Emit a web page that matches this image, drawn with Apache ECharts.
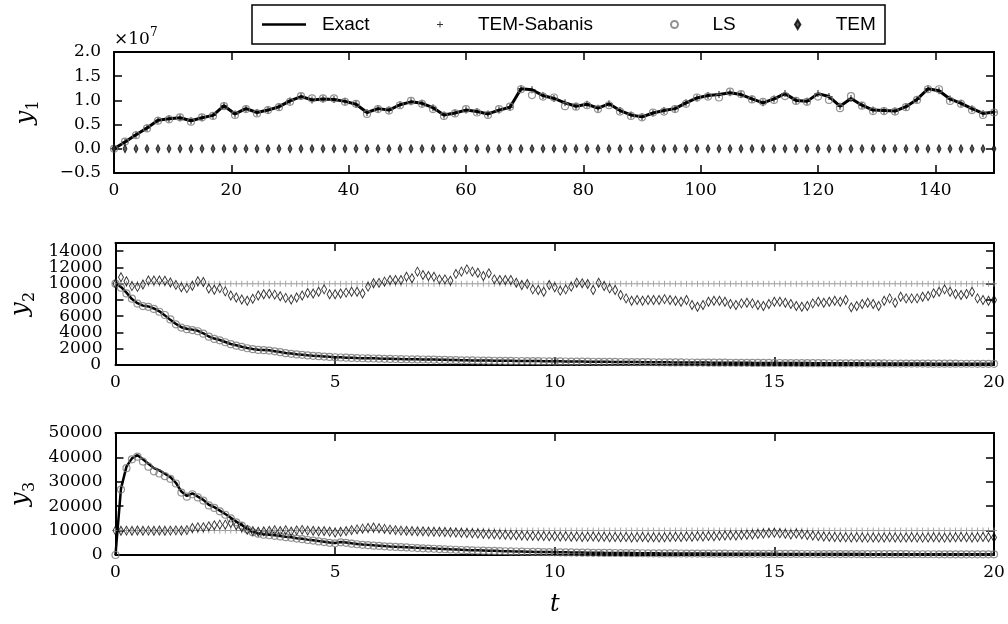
<!DOCTYPE html>
<html>
<head>
<meta charset="utf-8">
<script src="https://cdn.jsdelivr.net/npm/echarts@6/dist/echarts.min.js"></script>
<style>
  html, body { margin: 0; padding: 0; background: #fff; }
  #chart { width: 1008px; height: 624px; }
</style>
</head>
<body>
<div id="chart"></div>
<script>
// sampling times (markers every 1.875 on the long run, every 0.125 on the short ones)
const t1 = [
  0, 1.875, 3.75, 5.625, 7.5, 9.375, 11.25, 13.125, 15, 16.875,
  18.75, 20.625, 22.5, 24.375, 26.25, 28.125, 30, 31.875, 33.75, 35.625,
  37.5, 39.375, 41.25, 43.125, 45, 46.875, 48.75, 50.625, 52.5, 54.375,
  56.25, 58.125, 60, 61.875, 63.75, 65.625, 67.5, 69.375, 71.25, 73.125,
  75, 76.875, 78.75, 80.625, 82.5, 84.375, 86.25, 88.125, 90, 91.875,
  93.75, 95.625, 97.5, 99.375, 101.25, 103.125, 105, 106.875, 108.75, 110.625,
  112.5, 114.375, 116.25, 118.125, 120, 121.875, 123.75, 125.625, 127.5, 129.375,
  131.25, 133.125, 135, 136.875, 138.75, 140.625, 142.5, 144.375, 146.25, 148.125,
  150
];
const t2 = [
  0, 0.125, 0.25, 0.375, 0.5, 0.625, 0.75, 0.875,
  1, 1.125, 1.25, 1.375, 1.5, 1.625, 1.75, 1.875,
  2, 2.125, 2.25, 2.375, 2.5, 2.625, 2.75, 2.875,
  3, 3.125, 3.25, 3.375, 3.5, 3.625, 3.75, 3.875,
  4, 4.125, 4.25, 4.375, 4.5, 4.625, 4.75, 4.875,
  5, 5.125, 5.25, 5.375, 5.5, 5.625, 5.75, 5.875,
  6, 6.125, 6.25, 6.375, 6.5, 6.625, 6.75, 6.875,
  7, 7.125, 7.25, 7.375, 7.5, 7.625, 7.75, 7.875,
  8, 8.125, 8.25, 8.375, 8.5, 8.625, 8.75, 8.875,
  9, 9.125, 9.25, 9.375, 9.5, 9.625, 9.75, 9.875,
  10, 10.125, 10.25, 10.375, 10.5, 10.625, 10.75, 10.875,
  11, 11.125, 11.25, 11.375, 11.5, 11.625, 11.75, 11.875,
  12, 12.125, 12.25, 12.375, 12.5, 12.625, 12.75, 12.875,
  13, 13.125, 13.25, 13.375, 13.5, 13.625, 13.75, 13.875,
  14, 14.125, 14.25, 14.375, 14.5, 14.625, 14.75, 14.875,
  15, 15.125, 15.25, 15.375, 15.5, 15.625, 15.75, 15.875,
  16, 16.125, 16.25, 16.375, 16.5, 16.625, 16.75, 16.875,
  17, 17.125, 17.25, 17.375, 17.5, 17.625, 17.75, 17.875,
  18, 18.125, 18.25, 18.375, 18.5, 18.625, 18.75, 18.875,
  19, 19.125, 19.25, 19.375, 19.5, 19.625, 19.75, 19.875,
  20
];

// y1 (units of 1e7)
const y1Exact = [
  0.00, 0.14, 0.29, 0.43, 0.59, 0.62, 0.64, 0.58, 0.64, 0.69,
  0.89, 0.72, 0.83, 0.75, 0.80, 0.87, 0.99, 1.08, 1.01, 1.03,
  1.02, 0.98, 0.92, 0.75, 0.83, 0.80, 0.91, 0.97, 0.94, 0.85,
  0.70, 0.74, 0.80, 0.77, 0.72, 0.80, 0.86, 1.24, 1.22, 1.10,
  1.04, 0.95, 0.88, 0.92, 0.84, 0.93, 0.79, 0.70, 0.66, 0.74,
  0.79, 0.83, 0.95, 1.05, 1.10, 1.12, 1.16, 1.12, 1.03, 0.95,
  1.03, 1.14, 1.00, 0.98, 1.14, 1.08, 0.88, 1.04, 0.90, 0.80,
  0.79, 0.78, 0.87, 1.02, 1.24, 1.20, 1.03, 0.94, 0.83, 0.73,
  0.76
];
const y1LS = [
  0.00, 0.15, 0.28, 0.42, 0.58, 0.61, 0.65, 0.56, 0.65, 0.68,
  0.88, 0.70, 0.82, 0.73, 0.80, 0.86, 0.97, 1.09, 1.04, 1.04,
  1.04, 0.97, 0.93, 0.72, 0.82, 0.79, 0.90, 0.99, 0.93, 0.82,
  0.68, 0.73, 0.82, 0.75, 0.70, 0.82, 0.87, 1.23, 1.11, 1.08,
  1.06, 0.88, 0.87, 0.90, 0.82, 0.90, 0.77, 0.68, 0.65, 0.75,
  0.77, 0.82, 0.93, 1.06, 1.08, 1.06, 1.18, 1.13, 1.02, 0.97,
  1.01, 1.09, 0.99, 0.97, 1.08, 1.01, 0.84, 1.09, 0.89, 0.78,
  0.78, 0.77, 0.86, 1.01, 1.23, 1.23, 0.99, 0.93, 0.80, 0.70,
  0.75
];
// TEM-Sabanis sits on the exact path in this panel
const y1Sabanis = y1Exact;
const y1TEM = [
  0, 0, 0, 0, 0, 0, 0, 0, 0, 0, 0, 0, 0, 0, 0, 0, 0, 0, 0, 0,
  0, 0, 0, 0, 0, 0, 0, 0, 0, 0, 0, 0, 0, 0, 0, 0, 0, 0, 0, 0,
  0, 0, 0, 0, 0, 0, 0, 0, 0, 0, 0, 0, 0, 0, 0, 0, 0, 0, 0, 0,
  0, 0, 0, 0, 0, 0, 0, 0, 0, 0, 0, 0, 0, 0, 0, 0, 0, 0, 0, 0,
  0
];

// y2
const y2Exact = [
  10000, 9600, 8900, 8100, 7600, 7300, 7200, 6950, 6600, 6100,
  5550, 5050, 4650, 4450, 4350, 4200, 3900, 3500, 3250, 3070,
  2830, 2580, 2420, 2250, 2100, 1970, 1880, 1840, 1800, 1700,
  1600, 1480, 1400, 1320, 1270, 1200, 1150, 1110, 1060, 1000,
  960, 940, 905, 890, 860, 845, 820, 815, 790, 770,
  760, 750, 728, 722, 705, 700, 688, 672, 665, 640,
  632, 610, 603, 588, 580, 568, 563, 548, 540, 527,
  522, 512, 508, 500, 503, 492, 486, 478, 468, 462,
  450, 447, 438, 430, 427, 418, 410, 402, 398, 393,
  386, 380, 377, 368, 362, 358, 350, 347, 341, 337,
  333, 326, 322, 319, 311, 309, 303, 300, 294, 292,
  288, 283, 279, 276, 270, 268, 263, 260, 255, 253,
  250, 246, 244, 239, 236, 233, 231, 227, 224, 222,
  219, 215, 213, 210, 208, 204, 202, 199, 196, 194,
  191, 188, 186, 183, 181, 178, 176, 173, 171, 169,
  166, 164, 162, 160, 157, 155, 153, 151, 149, 147,
  145
];
const y2LS = [
  10000, 9500, 8800, 8150, 7550, 7250, 7150, 6900, 6550, 6150,
  5600, 5000, 4600, 4400, 4300, 4150, 3850, 3480, 3200, 3030,
  2800, 2560, 2380, 2230, 2060, 1950, 1850, 1820, 1770, 1680,
  1580, 1460, 1380, 1300, 1250, 1180, 1130, 1090, 1040, 990,
  950, 925, 895, 875, 850, 830, 812, 800, 780, 762,
  748, 738, 720, 710, 698, 690, 676, 663, 652, 632,
  622, 604, 595, 580, 572, 560, 553, 540, 532, 520,
  514, 506, 500, 494, 494, 486, 480, 470, 462, 455,
  444, 440, 432, 425, 420, 412, 404, 397, 392, 387,
  380, 375, 371, 363, 357, 352, 345, 342, 336, 332,
  328, 322, 318, 314, 307, 305, 299, 296, 291, 288,
  284, 280, 276, 272, 267, 265, 260, 257, 252, 250,
  247, 243, 241, 236, 233, 230, 228, 225, 222, 219,
  216, 213, 211, 208, 205, 202, 200, 197, 194, 192,
  189, 186, 184, 181, 179, 176, 174, 171, 169, 167,
  164, 162, 160, 158, 155, 153, 151, 149, 147, 145,
  143
];
// TEM-Sabanis stays on its starting value in panels 2 and 3
const y23Sabanis = [
  10000, 10000, 10000, 10000, 10000, 10000, 10000, 10000, 10000, 10000,
  10000, 10000, 10000, 10000, 10000, 10000, 10000, 10000, 10000, 10000,
  10000, 10000, 10000, 10000, 10000, 10000, 10000, 10000, 10000, 10000,
  10000, 10000, 10000, 10000, 10000, 10000, 10000, 10000, 10000, 10000,
  10000, 10000, 10000, 10000, 10000, 10000, 10000, 10000, 10000, 10000,
  10000, 10000, 10000, 10000, 10000, 10000, 10000, 10000, 10000, 10000,
  10000, 10000, 10000, 10000, 10000, 10000, 10000, 10000, 10000, 10000,
  10000, 10000, 10000, 10000, 10000, 10000, 10000, 10000, 10000, 10000,
  10000, 10000, 10000, 10000, 10000, 10000, 10000, 10000, 10000, 10000,
  10000, 10000, 10000, 10000, 10000, 10000, 10000, 10000, 10000, 10000,
  10000, 10000, 10000, 10000, 10000, 10000, 10000, 10000, 10000, 10000,
  10000, 10000, 10000, 10000, 10000, 10000, 10000, 10000, 10000, 10000,
  10000, 10000, 10000, 10000, 10000, 10000, 10000, 10000, 10000, 10000,
  10000, 10000, 10000, 10000, 10000, 10000, 10000, 10000, 10000, 10000,
  10000, 10000, 10000, 10000, 10000, 10000, 10000, 10000, 10000, 10000,
  10000, 10000, 10000, 10000, 10000, 10000, 10000, 10000, 10000, 10000,
  10000
];
const y2TEM = [
  10000, 10800, 10300, 9700, 9600, 9900, 10400, 10400, 10400, 10350,
  10150, 9850, 9550, 9450, 9750, 10300, 10200, 9400, 9250, 9450,
  9050, 8550, 8300, 8050, 7900, 8150, 8550, 8700, 8750, 8650,
  8450, 8250, 8050, 8300, 8550, 8850, 8800, 9000, 9300, 8700,
  8700, 8800, 8900, 9000, 9000, 8800, 9630, 10050, 10100, 10250,
  10450, 10450, 10450, 10860, 10660, 11480, 11070, 10950, 10860, 10530,
  10530, 10370, 11200, 11480, 11760, 11480, 11350, 10950, 11270, 10530,
  10450, 10450, 10450, 10120, 9830, 9960, 9300, 9220, 9010, 9830,
  9550, 9140, 9300, 9630, 10120, 10040, 9960, 9220, 10120, 9710,
  9420, 9220, 8600, 8190, 7900, 7990, 7900, 7990, 7990, 7990,
  8100, 7990, 7900, 7780, 7990, 7370, 7170, 7370, 7780, 7900,
  7900, 7780, 7500, 7370, 7580, 7660, 7580, 7370, 7250, 7500,
  7780, 7780, 7660, 7500, 7250, 7170, 7250, 7580, 7780, 7660,
  7780, 7900, 7780, 7990, 7090, 7250, 7500, 7660, 7500, 7250,
  7900, 8190, 7660, 8400, 8190, 8190, 8190, 8400, 8480, 8810,
  9010, 9300, 9010, 8730, 8600, 8730, 9010, 8190, 7990, 7900,
  8000
];

// y3
const y3Exact = [
  0, 27200, 36200, 39600, 40900, 39200, 37400, 35600, 34700, 33300,
  31900, 29600, 26000, 24200, 25300, 23900, 22600, 20600, 19600, 18200,
  16800, 15300, 13700, 12300, 10700, 9500, 8900, 8500, 8300, 8050,
  7800, 7500, 7250, 6900, 6650, 6300, 6050, 5700, 5450, 5150,
  4950, 5350, 5150, 4800, 4550, 4300, 4150, 3950, 3800, 3650,
  3520, 3400, 3320, 3200, 3060, 2920, 2820, 2720, 2630, 2510,
  2420, 2310, 2220, 2110, 2020, 1960, 1900, 1830, 1760, 1710,
  1630, 1570, 1510, 1460, 1410, 1360, 1310, 1280, 1240, 1200,
  1160, 1120, 1090, 1060, 1020, 990, 960, 930, 910, 880,
  860, 840, 810, 790, 770, 750, 730, 715, 700, 680,
  665, 650, 640, 625, 610, 600, 588, 575, 565, 555,
  545, 535, 525, 515, 505, 498, 490, 480, 472, 465,
  458, 450, 444, 437, 430, 424, 418, 412, 406, 400,
  395, 389, 384, 378, 373, 368, 363, 358, 353, 348,
  344, 339, 335, 330, 326, 322, 318, 314, 310, 306,
  302, 298, 295, 291, 288, 284, 281, 278, 275, 272,
  269
];
const y3LS = [
  0, 26800, 35600, 39200, 40300, 38300, 36200, 34300, 33400, 32300,
  31200, 29300, 25600, 23900, 24900, 23600, 22300, 20300, 19300, 17900,
  16500, 15000, 13400, 12000, 10500, 9300, 8700, 8300, 8100, 7850,
  7600, 7300, 7050, 6750, 6500, 6150, 5900, 5550, 5300, 5000,
  4800, 5200, 5000, 4650, 4400, 4180, 4020, 3840, 3700, 3550,
  3420, 3300, 3220, 3110, 2980, 2840, 2740, 2640, 2560, 2440,
  2350, 2250, 2160, 2050, 1970, 1910, 1850, 1780, 1720, 1670,
  1590, 1530, 1480, 1430, 1380, 1330, 1280, 1250, 1210, 1170,
  1130, 1100, 1070, 1040, 1000, 970, 940, 910, 890, 860,
  840, 820, 790, 770, 750, 735, 715, 700, 685, 665,
  650, 636, 626, 612, 598, 588, 576, 563, 553, 544,
  534, 524, 515, 505, 495, 488, 480, 471, 463, 456,
  449, 441, 435, 428, 422, 416, 410, 404, 398, 392,
  387, 381, 376, 371, 366, 361, 356, 351, 346, 341,
  337, 333, 328, 324, 320, 316, 312, 308, 304, 300,
  296, 293, 289, 286, 282, 279, 276, 273, 270, 267,
  264
];
const y3TEM = [
  10000, 9960, 10000, 9900, 10050, 9950, 10000, 9960, 10050, 9950,
  10000, 10100, 10050, 10200, 11060, 11340, 11340, 11750, 12160, 12440,
  12440, 13120, 12160, 11340, 10300, 9800, 9500, 9700, 9900, 10200,
  9800, 10200, 9600, 10100, 10300, 10000, 9900, 9700, 9800, 9600,
  9200, 9500, 9800, 10200, 10500, 10800, 11100, 11300, 11000, 10700,
  10400, 10200, 10000, 9900, 9800, 9700, 9700, 9600, 9500, 9500,
  9400, 9300, 9200, 9100, 9000, 8900, 8800, 8700, 8600, 8500,
  8400, 8300, 8200, 8100, 8000, 7900, 7900, 7800, 7800, 7700,
  7700, 7600, 7700, 7500, 7600, 7400, 7500, 7600, 7400, 7500,
  7300, 7400, 7300, 7400, 7200, 7300, 7400, 7200, 7300, 7200,
  7300, 7400, 7500, 7400, 7600, 7500, 7700, 7600, 7800, 7700,
  7900, 8000, 8100, 8000, 8200, 8300, 8400, 8600, 8800, 9000,
  9100, 8900, 8700, 8400, 8800, 8500, 8200, 8000, 7800, 7600,
  7500, 7400, 7300, 7300, 7200, 7300, 7200, 7100, 7200, 7100,
  7200, 7300, 7200, 7100, 7200, 7300, 7200, 7100, 7200, 7300,
  7200, 7100, 7200, 7300, 7400, 7300, 7200, 7300, 7400, 7300,
  7200
];

const legendNames = ['Exact', 'TEM-Sabanis', 'LS', 'TEM'];

const serif = '"DejaVu Serif", "Liberation Serif", serif';
const sans = '"Liberation Sans", Arial, sans-serif';
const plusSymbol = 'path://M-0.16,-1H0.16V-0.16H1V0.16H0.16V1H-0.16V0.16H-1V-0.16H-0.16Z';
const diamondSymbol = 'path://M0,-1L0.6,0L0,1L-0.6,0Z';

const pairs = (ts, ys) => ys.map((v, i) => [ts[i], v]);

const chart = echarts.init(document.getElementById('chart'));

const frameLine = { show: true, onZero: false, lineStyle: { color: '#000', width: 2 } };
const tick = { show: true, inside: true, length: 8, lineStyle: { color: '#000', width: 1.5 } };
const tickLabel = { color: '#000', fontFamily: serif, fontSize: 17, hideOverlap: false };

const grid2Box = { left: 114, top: 243, width: 880, height: 122 };

function xPair(gridIndex, max, interval, name) {
  const base = {
    type: 'value', gridIndex, min: 0, max, interval,
    axisLine: frameLine, axisTick: tick, splitLine: { show: false }
  };
  const bottom = {
    ...base, position: 'bottom',
    axisLabel: { ...tickLabel, margin: 9, showMinLabel: true, showMaxLabel: max % interval === 0, formatter: v => String(v) }
  };
  if (name) {
    bottom.name = '{i|t}';
    bottom.nameLocation = 'middle';
    bottom.nameGap = 38;
    bottom.nameTextStyle = { rich: { i: { fontFamily: serif, fontStyle: 'italic', fontSize: 24, color: '#000' } } };
  }
  const top = { ...base, position: 'top', axisLabel: { show: false } };
  return [bottom, top];
}

function yPair(gridIndex, min, max, interval, sub, formatter, showMin) {
  const base = {
    type: 'value', gridIndex, min, max, interval,
    axisLine: frameLine, axisTick: tick, splitLine: { show: false }
  };
  const left = {
    ...base, position: 'left',
    axisLabel: {
      ...tickLabel, margin: 13, showMinLabel: showMin,
      showMaxLabel: (max - min) % interval === 0,
      formatter: formatter || (v => String(v))
    },
    name: '{i|y}{s|' + sub + '}',
    nameLocation: 'middle',
    nameRotate: 90,
    nameGap: 72,
    nameTextStyle: {
      rich: {
        i: { fontFamily: serif, fontStyle: 'italic', fontSize: 25, lineHeight: 34, color: '#000' },
        s: { fontFamily: serif, fontSize: 16, verticalAlign: 'bottom', color: '#000' }
      }
    }
  };
  const right = { ...base, position: 'right', axisLabel: { show: false } };
  return [left, right];
}

const fmt1 = v => (v < 0 ? '\u2212' : '') + Math.abs(v).toFixed(1);

function exactSeries(ax, ts, ys, width) {
  return {
    name: 'Exact', type: 'line', xAxisIndex: ax, yAxisIndex: ax,
    data: pairs(ts, ys), symbol: 'none', lineStyle: { color: '#000', width },
    itemStyle: { color: '#000' }, z: 2
  };
}
function sabanisSeries(ax, ts, ys, color, size) {
  return {
    name: 'TEM-Sabanis', type: 'scatter', xAxisIndex: ax, yAxisIndex: ax,
    data: pairs(ts, ys), symbol: plusSymbol, symbolSize: size,
    itemStyle: { color }, z: 3
  };
}
function lsSeries(ax, ts, ys) {
  return {
    name: 'LS', type: 'scatter', xAxisIndex: ax, yAxisIndex: ax,
    data: pairs(ts, ys), symbol: 'circle', symbolSize: 7,
    itemStyle: { color: 'rgba(0,0,0,0)', borderColor: '#777', borderWidth: 1.2 }, z: 4
  };
}
function temSeries(ax, ts, ys, size, fill) {
  return {
    name: 'TEM', type: 'scatter', xAxisIndex: ax, yAxisIndex: ax,
    data: pairs(ts, ys), symbol: diamondSymbol, symbolSize: size,
    itemStyle: { color: fill, borderColor: '#000', borderWidth: 1 }, z: 5
  };
}

function legendItem(item, left, itemHeight) {
  return {
    data: [item], left, top: 15, padding: 0,
    itemWidth: 44, itemHeight, symbolKeepAspect: true,
    selectedMode: false,
    textStyle: { fontFamily: sans, fontSize: 19, color: '#000', padding: [0, 0, 0, 11] }
  };
}

const option = {
  animation: false,
  backgroundColor: '#fff',
  grid: [
    { left: 114, top: 52, width: 880, height: 121 },
    grid2Box,
    { left: 114, top: 433, width: 880, height: 122 },
    // twin of the y2 grid: only carries the "0" label, which the crowded
    // main axis would otherwise drop together with its neighbour
    grid2Box
  ],
  xAxis: [
    ...xPair(0, 150, 20),
    ...xPair(1, 20, 5),
    ...xPair(2, 20, 5, true),
    { type: 'value', gridIndex: 3, min: 0, max: 20, show: false }
  ],
  yAxis: [
    ...yPair(0, -0.5, 2.0, 0.5, 1, fmt1, true),
    ...yPair(1, 0, 15000, 2000, 2, null, false),
    ...yPair(2, 0, 50000, 10000, 3, null, true),
    {
      type: 'value', gridIndex: 3, min: 0, max: 15000, interval: 15000, position: 'left',
      axisLine: { show: false }, axisTick: { show: false }, splitLine: { show: false },
      axisLabel: { ...tickLabel, margin: 13, showMinLabel: true, showMaxLabel: false, formatter: v => String(v) }
    }
  ],
  legend: [
    legendItem({ name: legendNames[0], icon: 'rect', itemStyle: { color: '#000' } }, 262, 2.5),
    legendItem(legendNames[1], 437, 6),
    legendItem(legendNames[2], 670, 7),
    legendItem(legendNames[3], 794, 9)
  ],
  graphic: [
    {
      type: 'rect', z: -10, silent: true,
      shape: { x: 252, y: 5, width: 633, height: 39 },
      style: { fill: '#fff', stroke: '#000', lineWidth: 1.5 }
    },
    {
      type: 'text', left: 114, top: 27, silent: true,
      style: {
        text: '{a|\u00d710}{b|7}',
        rich: {
          a: { fontFamily: serif, fontSize: 17, lineHeight: 26, fill: '#000' },
          b: { fontFamily: serif, fontSize: 12, verticalAlign: 'top', fill: '#000' }
        }
      }
    }
  ],
  series: [
    exactSeries(0, t1, y1Exact, 3),
    sabanisSeries(0, t1, y1Sabanis, '#000', 7),
    lsSeries(0, t1, y1LS),
    temSeries(0, t1, y1TEM, [4, 8], '#333'),

    exactSeries(2, t2, y2Exact, 2.5),
    sabanisSeries(2, t2, y23Sabanis, '#888', 6),
    lsSeries(2, t2, y2LS),
    temSeries(2, t2, y2TEM, [5, 9], 'rgba(0,0,0,0)'),

    exactSeries(4, t2, y3Exact, 2.5),
    sabanisSeries(4, t2, y23Sabanis, '#888', 6),
    lsSeries(4, t2, y3LS),
    temSeries(4, t2, y3TEM, [5, 9], 'rgba(0,0,0,0)')
  ]
};

chart.setOption(option);
</script>
</body>
</html>
